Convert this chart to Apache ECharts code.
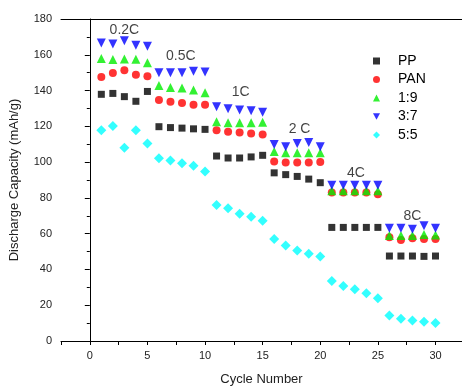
<!DOCTYPE html>
<html><head><meta charset="utf-8">
<script src="https://cdn.jsdelivr.net/npm/echarts@6/dist/echarts.min.js"></script>
<style>html,body{margin:0;padding:0;background:#fff}#c{width:462px;height:391px}</style>
</head><body><div id="c"></div>
<script>
const cycles = [1,2,3,4,5,6,7,8,9,10,11,12,13,14,15,16,17,18,19,20,21,22,23,24,25,26,27,28,29,30];
const PP  = [137.9,138.4,136.6,134,139.5, 119.8,119.3,119,118.6,118.3, 103.4,102.3,102.3,102.9,103.8, 94,93,92,90.5,88.5, 63.5,63.5,63.5,63.5,63.5, 47.5,47.5,47.5,47.3,47.5];
const PAN = [147.6,149.8,151.3,148.9,148, 134.7,133.8,133,132,132, 117.8,117,116.5,116,115.5, 100.3,99.8,99.8,99.8,100, 83,83,83,83,82, 58,56.5,57.5,57,57];
const R19 = [157.9,157.4,157.6,157.5,155.5, 142.8,141.7,141.4,140.3,138.8, 122.5,122,122,122,122.3, 106,105.2,105.2,105.2,105.2, 84,84,84,84,84, 59,59,59,59.5,59.3];
const R37 = [166.6,166,167.9,165.3,164.7, 150,150,150,150.8,150.4, 131,129.8,129.2,128.7,127.9, 109.9,108.6,110.4,111,108.6, 87,87,87,87,87, 63,63,62.4,64.4,63];
const R55 = [117.8,120.2,108,117.8,110.4, 102.2,100.9,99.4,97.9,94.8, 76,74.2,71.2,69.4,67.2, 57,53.4,50.6,48.8,47.3, 33.5,30.7,28.9,26.7,23.9, 14.2,12.5,11.4,10.7,10.1];
const rateLabels = ['0.2C','0.5C','1C','2 C','4C','8C'];
const rateX = [3, 7.9, 13.1, 18.2, 23.1, 28];
const rateY = [174, 159, 139, 118.7, 93.9, 70];
const xTicks = [0,5,10,15,20,25,30];

const FONT = 'Liberation Sans, Arial, sans-serif';
const pair = arr => cycles.map((c,i)=>[c, arr[i]]);
const chart = echarts.init(document.getElementById('c'));
function sc(name, data, symbol, size, color){
  return {name, type:'scatter', data:pair(data), symbol, symbolSize:size, itemStyle:{color}};
}
chart.setOption({
  animation:false,
  textStyle:{fontFamily:FONT},
  grid:{left:61,right:0,top:19,bottom:46},
  legend:{orient:'vertical',left:368,top:49,itemWidth:7,itemHeight:7,itemGap:4.5,
    textStyle:{fontFamily:FONT,fontSize:14,color:'#000',padding:[0,0,0,13]},
    data:['PP','PAN','1:9','3:7','5:5']},
  xAxis:[{type:'value',min:-2.5,max:32.3,interval:2.5,name:'Cycle Number',nameLocation:'middle',nameGap:32,
    nameTextStyle:{fontFamily:FONT,fontSize:13,color:'#222'},
    axisLine:{show:true,lineStyle:{color:'#000'}},
    axisTick:{show:true,length:4,lineStyle:{color:'#000'}},
    axisLabel:{fontFamily:FONT,fontSize:11,color:'#222',margin:9,showMaxLabel:false,
      formatter:v=> xTicks.indexOf(v)>=0 ? String(v) : ''},
    splitLine:{show:false}},
    {type:'value',position:'top',min:-2.5,max:32.3,
    axisLine:{show:true,lineStyle:{color:'#000'}},axisTick:{show:false},axisLabel:{show:false},splitLine:{show:false}}],
  yAxis:{type:'value',min:0,max:180,interval:20,name:'Discharge Capacity (mAh/g)',nameLocation:'middle',nameGap:40,
    nameTextStyle:{fontFamily:FONT,fontSize:13,color:'#222'},
    axisLine:{show:true,lineStyle:{color:'#000'}},
    axisTick:{show:true,length:5,lineStyle:{color:'#000'}},
    minorTick:{show:true,splitNumber:2,length:3,lineStyle:{color:'#000'}},
    axisLabel:{fontFamily:FONT,fontSize:11,color:'#222',margin:9},
    splitLine:{show:false}},
  series:[
    sc('PP',PP,'rect',7,'#000000'),
    sc('PAN',PAN,'circle',8,'#ff0000'),
    sc('1:9',R19,'triangle',9,'#00ee00'),
    sc('3:7',R37,'path://M0,0 L10,0 L5,9 Z',9,'#0000ff'),
    sc('5:5',R55,'diamond',10,'#00ffff'),
    {type:'scatter',symbolSize:0,silent:true,data:rateX.map((x,i)=>({value:[x,rateY[i]],label:{formatter:rateLabels[i]}})),
      label:{show:true,position:'inside',fontFamily:FONT,fontSize:14,color:'#111'}}
  ]
});
</script></body></html>
